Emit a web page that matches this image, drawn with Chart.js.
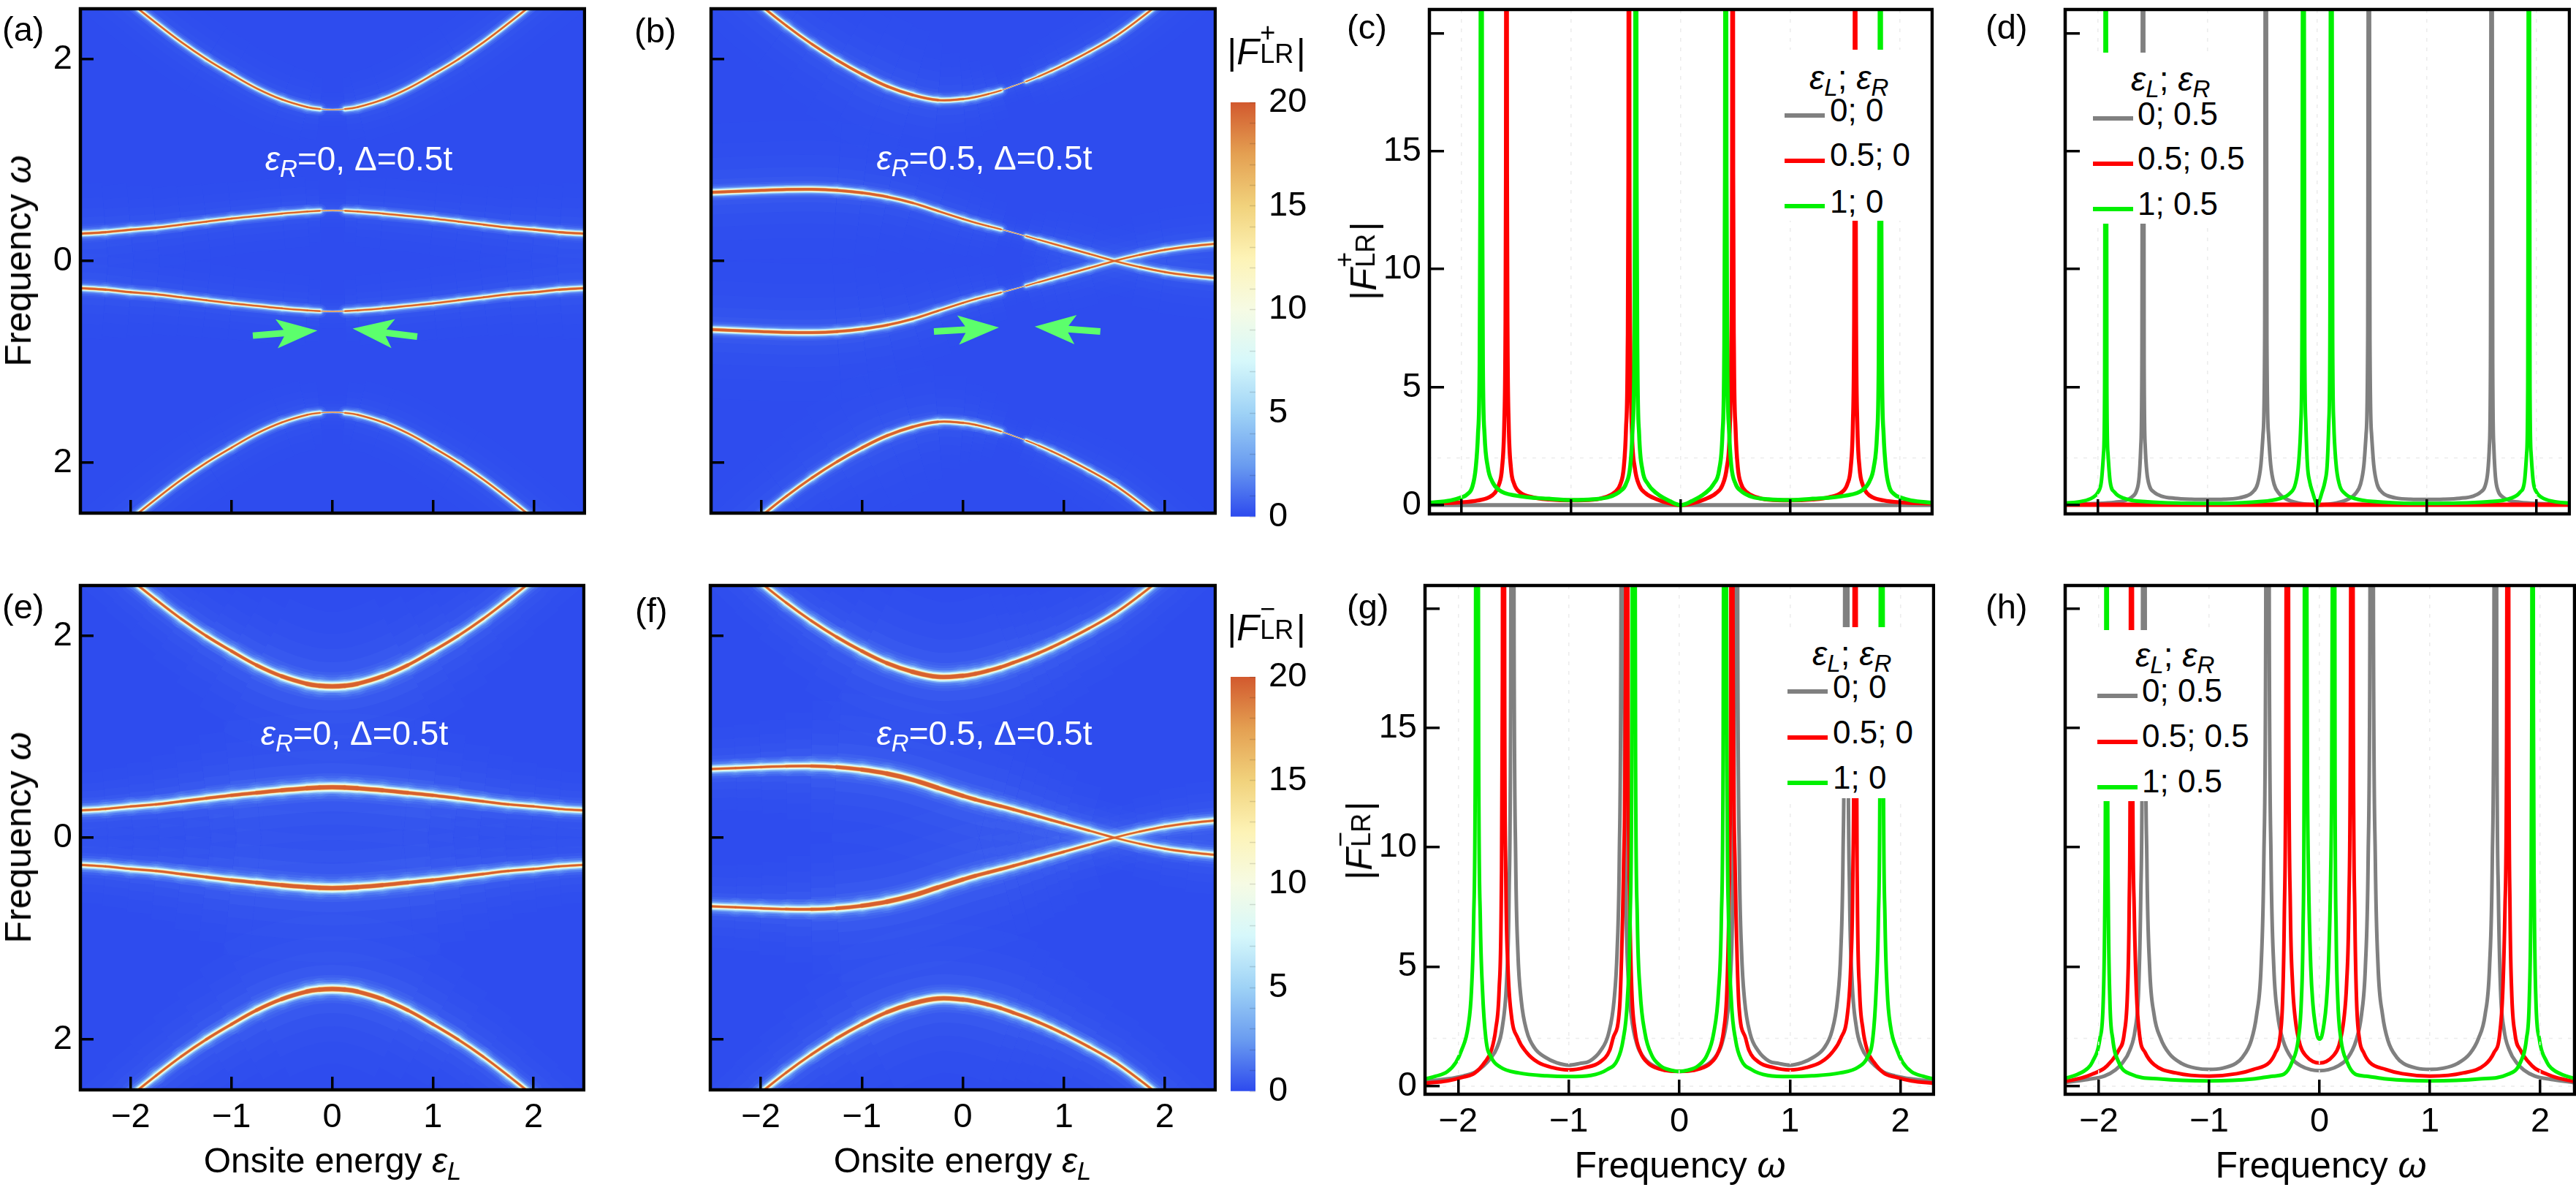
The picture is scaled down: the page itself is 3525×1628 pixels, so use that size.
<!DOCTYPE html>
<html><head><meta charset="utf-8">
<script src="https://cdn.jsdelivr.net/npm/chart.js@4"></script>
<style>
html,body{margin:0;padding:0;background:#fff;width:3525px;height:1628px;overflow:hidden}
canvas{position:absolute;display:block}
.t{position:absolute;white-space:nowrap;font-family:"Liberation Sans",sans-serif;color:#000;line-height:1;transform:translate(0,-50%);z-index:5}
.c{transform:translate(-50%,-50%)}
.r{transform:translate(-50%,-50%) rotate(-90deg)}
.t i{font-style:italic}
.t sub{font-size:72%;font-style:italic;vertical-align:-0.28em;line-height:0}
.st{display:inline-block;position:relative;width:1.02em;height:1em;vertical-align:baseline}
.st b,.st u{position:absolute;left:.04em;font-weight:normal;text-decoration:none;font-size:72%}
.st b{top:-.3em}.st u{top:.5em}
.box{position:absolute;background:#fff;z-index:3}
.sw{position:absolute;z-index:4;height:6px}
</style></head><body>
<script>
/* ---------- heat-map ridge values ---------- */
const epsR0=[-2.5,-2.25,-2,-1.75,-1.5,-1.25,-1,-0.75,-0.5,-0.25,-0.125,0,0.125,0.25,0.5,0.75,1,1.25,1.5,1.75,2,2.25,2.5];
const bandTopR0=[3.0,2.77,2.56,2.36,2.17,2.0,1.85,1.71,1.6,1.525,1.506,1.5,1.506,1.525,1.6,1.71,1.85,2.0,2.17,2.36,2.56,2.77,3.0];
const bandMidR0=[0.27,0.285,0.31,0.33,0.36,0.39,0.42,0.445,0.47,0.49,0.497,0.5,0.497,0.49,0.47,0.445,0.42,0.39,0.36,0.33,0.31,0.285,0.27];
const wTopA=[.45,.45,.45,.45,.45,.45,.42,.42,.42,.4,.3,0,.3,.4,.42,.42,.42,.45,.45,.45,.45,.45,.45];
const wMidA=[.65,.6,.55,.5,.45,.45,.42,.42,.42,.4,.3,0,.3,.4,.42,.42,.42,.45,.45,.5,.55,.6,.65];
const wTopE=[.42,.42,.45,.5,.55,.65,.75,.9,1.1,1.3,1.4,1.45,1.4,1.3,1.1,.9,.75,.65,.55,.5,.45,.42,.42];
const wMidE=[.45,.45,.5,.55,.65,.75,.9,1.05,1.2,1.35,1.38,1.4,1.38,1.35,1.2,1.05,.9,.75,.65,.55,.5,.45,.45];

const epsR5=[-2.5,-2.25,-2,-1.75,-1.5,-1.25,-1,-0.75,-0.5,-0.25,0,0.125,0.25,0.375,0.5,0.625,0.75,0.875,1,1.25,1.5,1.75,2,2.25,2.5];
const bandTopR5=[3.0,2.76,2.53,2.33,2.15,1.99,1.85,1.73,1.645,1.595,1.605,1.625,1.655,1.69,1.735,1.78,1.83,1.885,1.945,2.075,2.22,2.4,2.6,2.82,3.04];
const bandMidR5=[0.68,0.69,0.70,0.708,0.71,0.70,0.675,0.635,0.575,0.495,0.415,0.378,0.345,0.313,0.28,0.245,0.21,0.175,0.14,0.07,0,-0.06,-0.11,-0.145,-0.17];
const wTopB=[.6,.6,.6,.6,.65,.75,.85,.9,.8,.65,.5,.45,.38,.25,0,.22,.32,.38,.4,.42,.45,.45,.45,.45,.45];
const wMidB=[.9,.9,.9,.9,.9,.9,.85,.72,.6,.5,.42,.4,.36,.25,0,.22,.32,.38,.42,.45,.3,.45,.5,.5,.5];
const wTopF=[.45,.45,.45,.5,.6,.7,.9,1.1,1.3,1.4,1.3,1.2,1.1,1.02,.95,.87,.8,.75,.7,.6,.55,.5,.45,.45,.45];
const wMidF=[.5,.5,.55,.6,.75,.95,1.15,1.35,1.45,1.35,1.15,1.07,1,.92,.85,.8,.75,.7,.65,.45,.3,.35,.42,.45,.5];

const heatTicksX=[-2,-1,0,1,2];
const heatTicksY=[-2,0,2];
const lineTicksX=[-2,-1,0,1,2];
const lineTicksY=[0,5,10,15,20];
const cbarStops=[0,2.5,5,7.5,10,12.5,15,17.5,20];
const cbarColors=['#2d4aee','#6a9cf0','#9ed2f6','#d6f8fb','#f6fbe4','#fdf3b6','#f1d27c','#e4a052','#d2592e'];
const cbarTicks=[0,5,10,15,20];

/* ---------- line panel values ---------- */
const cGrayW=[-2.3,2.3], cGrayV=[0,0];
const cRedW=[-2.3,-2,-1.85,-1.75,-1.7,-1.66,-1.63,-1.61,-1.6,-1.595,-1.59,-1.585,-1.58,-1.57,-1.55,-1.52,-1.47,-1.35,-1.2,-1,-.8,-.68,-.6,-.55,-.52,-.5,-.485,-.478,-.473,-.468,-.46,-.445,-.42,-.38,-.32,-.22,-.1,0];
const cRedV=[.07,.12,.2,.33,.5,.85,1.6,3.5,7,14,40,14,7,3.5,1.6,.9,.55,.33,.24,.2,.23,.35,.55,.9,1.6,3.2,6.5,14,40,14,6.5,3,1.6,.85,.5,.25,.07,0];
const cGreenW=[-2.3,-2.1,-2,-1.95,-1.9,-1.87,-1.85,-1.835,-1.828,-1.82,-1.812,-1.805,-1.79,-1.76,-1.72,-1.66,-1.5,-1.2,-1,-.8,-.65,-.55,-.5,-.46,-.44,-.425,-.417,-.41,-.403,-.395,-.38,-.35,-.3,-.22,-.1,0];
const cGreenV=[.1,.2,.33,.45,.8,1.6,3,6,14,40,14,6,3,1.6,1,.65,.4,.27,.22,.25,.35,.6,.9,1.7,3.2,6,14,40,14,6,3,1.5,.9,.5,.17,0];

const dGrayW=[-2.3,-2,-1.85,-1.75,-1.69,-1.65,-1.625,-1.61,-1.6,-1.59,-1.58,-1.57,-1.555,-1.53,-1.49,-1.42,-1.3,-1.15,-1,-.85,-.72,-.64,-.59,-.545,-.515,-.495,-.48,-.47,-.46,-.445,-.425,-.395,-.35,-.28,-.18,-.08,0];
const dGrayV=[.04,.07,.12,.2,.35,.6,1.2,2.5,6,40,6,2.5,1.4,.8,.55,.38,.29,.25,.24,.25,.3,.4,.55,.9,1.7,3,7,40,7,3,1.7,.9,.5,.25,.1,.03,0];
const dRedW=[-2.3,2.3], dRedV=[.02,.02];
const dGreenW=[-2.3,-2.15,-2.05,-2,-1.97,-1.95,-1.94,-1.93,-1.92,-1.91,-1.89,-1.85,-1.75,-1.55,-1.2,-1,-.8,-.55,-.35,-.25,-.2,-.17,-.15,-.14,-.127,-.115,-.105,-.09,-.07,-.04,-.02,0];
const dGreenV=[.08,.16,.32,.55,1,2.2,5,40,5,2.2,1,.55,.27,.14,.08,.07,.08,.14,.27,.5,.9,1.8,3.5,7,40,7,3.5,1.7,1,.5,.2,0];

const gGrayW=[-2.3,-2.1,-1.95,-1.85,-1.77,-1.71,-1.65,-1.6,-1.56,-1.54,-1.525,-1.51,-1.495,-1.48,-1.46,-1.43,-1.38,-1.31,-1.21,-1.11,-1,-.9,-.81,-.71,-.64,-.59,-.563,-.543,-.528,-.513,-.498,-.483,-.463,-.433,-.383,-.313,-.213,-.11,0];
const gGrayV=[.2,.3,.43,.58,.85,1.15,1.6,2.5,4.6,8,17,60,19,9.5,5.6,3.6,2.3,1.6,1.2,.98,.88,.95,1.05,1.5,2.2,3.6,5.6,9.5,19,60,17,8,4.6,2.9,1.75,1.15,.8,.66,.62];
const gRedW=[-2.3,-2.1,-1.95,-1.85,-1.76,-1.7,-1.66,-1.63,-1.61,-1.6,-1.59,-1.58,-1.57,-1.55,-1.52,-1.46,-1.38,-1.28,-1.15,-1,-.85,-.72,-.63,-.6,-.54,-.525,-.505,-.485,-.475,-.465,-.45,-.43,-.4,-.35,-.28,-.18,-.08,0];
const gRedV=[.12,.22,.38,.55,1,1.5,2.4,4,8,17,55,17,9,5,3,2,1.4,1,.78,.68,.78,1,1.5,2,3.3,5,9,20,55,17,8,4,2.3,1.4,.95,.72,.63,.62];
const gGreenW=[-2.3,-2.2,-2.1,-2.02,-1.97,-1.91,-1.88,-1.86,-1.845,-1.83,-1.815,-1.8,-1.78,-1.75,-1.7,-1.62,-1.45,-1.2,-1,-.8,-.65,-.56,-.51,-.47,-.445,-.43,-.413,-.396,-.38,-.355,-.31,-.25,-.17,-.08,0];
const gGreenV=[.3,.42,.6,1,1.5,2.5,4,7,14,50,14,7,4,2,1.2,.8,.55,.43,.4,.45,.7,1.1,1.9,3.6,7,14,50,14,7,4,2.2,1.3,.85,.67,.62];

const hGrayW=[-2.3,-2.1,-1.95,-1.85,-1.79,-1.72,-1.67,-1.64,-1.62,-1.605,-1.593,-1.58,-1.565,-1.54,-1.5,-1.44,-1.36,-1.25,-1.12,-1,-.88,-.76,-.7,-.62,-.57,-.53,-.505,-.488,-.472,-.456,-.44,-.415,-.38,-.33,-.25,-.17,-.08,0];
const hGrayV=[.15,.28,.42,.68,.95,1.5,2.4,4,8,17,60,19,9.5,5,3,2,1.35,.95,.75,.7,.75,.95,1.2,1.9,3,5,9.5,19,60,19,9.5,5,3,1.9,1.15,.85,.69,.65];
const hRedW=[-2.3,-2.15,-2.06,-1.95,-1.895,-1.82,-1.77,-1.74,-1.725,-1.715,-1.705,-1.695,-1.68,-1.66,-1.63,-1.58,-1.5,-1.3,-1,-.75,-.6,-.453,-.4,-.36,-.335,-.32,-.305,-.293,-.28,-.265,-.245,-.22,-.175,-.12,-.06,0];
const hRedV=[.2,.35,.5,.75,1,1.5,2.2,4,7.5,15,50,15,7.5,4,2.1,1.4,.9,.55,.42,.52,.7,1,1.4,2,3.6,7,16,50,16,7.5,4.3,2.8,1.7,1.25,1.03,.97];
const hGreenW=[-2.3,-2.2,-2.1,-2.06,-1.99,-1.96,-1.945,-1.937,-1.93,-1.923,-1.915,-1.9,-1.875,-1.82,-1.71,-1.45,-1,-.6,-.42,-.323,-.25,-.192,-.165,-.15,-.14,-.128,-.118,-.11,-.1,-.08,-.06,-.04,-.02,0];
const hGreenV=[.33,.48,.75,1,2,3.6,8,16,50,16,8,3.6,2,1,.5,.3,.22,.3,.42,.5,1,2,3.6,6.5,13,50,24,13,8.7,5,3.4,2.6,2.1,1.97];

/* guide lines (faint dashed) */
const guideY=[2];
const guideYLower=[0,2];

/* text */
const legendHead='<i>ε<sub>L</sub></i>; <i>ε<sub>R</sub></i>';
const legendC=['0; 0','0.5; 0','1; 0'];
const legendD=['0; 0.5','0.5; 0.5','1; 0.5'];
const seriesColors=['#808080','#ff0000','#00f000'];

/* ---------- helpers ---------- */
const FONT='"Liberation Sans"';
const mirW=h=>[...h,...h.slice(0,-1).reverse().map(v=>-v)];
const mirV=h=>[...h,...h.slice(0,-1).reverse()];
const pts=(xs,ys)=>xs.map((x,i)=>({x,y:ys[i]}));
Chart.defaults.font.family=FONT;

function addCanvas(l,t,w,h){const c=document.createElement('canvas');c.width=w;c.height=h;c.style.left=l+'px';c.style.top=t+'px';c.style.width=w+'px';c.style.height=h+'px';document.body.appendChild(c);return c;}
function text(html,x,y,size,cls,color){const d=document.createElement('div');d.className='t '+(cls||'');d.innerHTML=html;d.style.left=x+'px';d.style.top=y+'px';d.style.fontSize=size+'px';if(color)d.style.color=color;document.body.appendChild(d);return d;}

const framePlugin={id:'frame',afterDraw(ch){const a=ch.chartArea,g=ch.ctx;g.save();g.strokeStyle='#000';g.lineWidth=4.5;g.strokeRect(a.left,a.top,a.right-a.left,a.bottom-a.top);
 const arrows=ch.config.options.arrowList||[];
 arrows.forEach(ar=>{const X=ch.scales.x,Y=ch.scales.y;const sx=X.getPixelForValue(ar[0]),sy=Y.getPixelForValue(ar[1]),tx=X.getPixelForValue(ar[2]),ty=Y.getPixelForValue(ar[3]);
  const L=Math.hypot(tx-sx,ty-sy),ux=(tx-sx)/L,uy=(ty-sy)/L,nx=-uy,ny=ux;const P=(b,s)=>[tx-ux*b+nx*s,ty-uy*b+ny*s];
  const poly=[P(0,0),P(56,20),P(46,4.5),P(L,4.5),P(L,-4.5),P(46,-4.5),P(56,-20)];
  g.fillStyle='#5cff6c';g.beginPath();poly.forEach((p,i)=>i?g.lineTo(p[0],p[1]):g.moveTo(p[0],p[1]));g.closePath();g.fill();});
 g.restore();},
 beforeDatasetsDraw(ch){const bg=ch.config.options.plotBg;if(!bg)return;const a=ch.chartArea,g=ch.ctx;g.save();g.fillStyle=bg;g.fillRect(a.left,a.top,a.right-a.left,a.bottom-a.top);g.restore();}};

function noPad(s){s.paddingTop=0;s.paddingBottom=0;s.paddingLeft=0;s.paddingRight=0;}
function axisBase(pos,ticks,range,fit,labelFn,tl,pad,gridLine,size){return {type:'linear',position:pos,min:range[0],max:range[1],
  afterBuildTicks:s=>{s.ticks=ticks.map(v=>({value:v}));},afterFit:s=>{fit(s);noPad(s);},
  border:{display:false,dash:[5,8]},
  grid:{z:1,drawOnChartArea:!!gridLine,color:gridLine||'transparent',lineWidth:1.5,drawTicks:true,tickLength:-tl,tickColor:'#000',tickWidth:3.5,tickBorderDash:[]},
  ticks:{z:2,autoSkip:false,maxRotation:0,minRotation:0,padding:tl+pad,color:'#000',font:{size:size||47,family:FONT},callback:labelFn}};}

function buildPanel(plot,xr,yr,xT,yT,xLab,yLab,datasets,opt){
 const mL=115,mT=8,mR=Math.min(2,3525-plot[2]),mB=80;
 const c=addCanvas(plot[0]-mL,plot[1]-mT,plot[2]-plot[0]+mL+mR,plot[3]-plot[1]+mT+mB);
 /* Chart.js paints dataset 0 last, so the list is reversed to paint in the listed order */
 return new Chart(c,{type:'scatter',data:{datasets:datasets.slice().reverse()},plugins:[framePlugin],options:Object.assign({responsive:false,animation:false,devicePixelRatio:1,
   layout:{padding:{top:mT,right:mR,left:0,bottom:0}},plugins:{legend:{display:false},tooltip:{enabled:false}},
   scales:{
    x:axisBase('bottom',xT,xr,s=>{s.height=mB;},xLab,opt.tl,opt.padX,opt.gridX),
    y:axisBase('left',yT,yr,s=>{s.width=mL;},yLab,opt.tl,opt.padY)
   }},opt.extra||{})});
}

/* ---------- heat-map ridge layers ---------- */
const layers=[
 {c:'rgba(90,135,245,0.22)',b:23,k:6},
 {c:'rgba(100,150,245,0.38)',b:16,k:6},
 {c:'rgba(125,175,245,0.7)',b:11,k:5},
 {c:'#a8dcf8',b:7.5,k:4.5},
 {c:'#dcf8fb',b:4.8,k:4.3},
 {c:'#f8fbe0',b:3.2,k:4},
 {c:'#f5dc90',b:2.3,k:3.7},
 {c:'#e08a48',b:1.5,k:3.4},
 {c:'#d8602f',b:.8,k:3.1}];
const hazeLayers=[[170,.018],[120,.025],[85,.035],[55,.05],[32,.08]];
function ridgeSets(grid,curves,hazeA,scale){
 const out=[];
 hazeLayers.forEach(h=>curves.forEach(cv=>out.push({data:pts(grid,cv.y),showLine:true,pointRadius:0,borderColor:`rgba(120,170,250,${h[1]*hazeA})`,borderWidth:h[0],tension:.4,clip:0,borderCapStyle:'butt',
   segment:{borderWidth:s=>{const w=(cv.w[s.p0DataIndex]+cv.w[s.p1DataIndex])/2;return h[0]*Math.min(1.2,(w+.1)/.9);}}})));
 layers.forEach(l=>curves.forEach(cv=>out.push({data:pts(grid,cv.y),showLine:true,pointRadius:0,borderColor:l.c,borderWidth:2,tension:.4,clip:0,borderCapStyle:'round',
   segment:{borderWidth:s=>{const w=(cv.w[s.p0DataIndex]+cv.w[s.p1DataIndex])/2;const f=Math.min(1,w/.3);return Math.max(.2,l.k*w+scale*l.b*f*f);}}})));
 return out;
}
const neg=a=>a.map(v=>-v);
const curvesOf=(top,mid,wt,wm)=>[{y:top,w:wt},{y:mid,w:wm},{y:neg(mid),w:wm},{y:neg(top),w:wt}];
const absLab=v=>String(Math.abs(v));
const minusLab=v=>String(v).replace('-','\u2212');
const noLab=()=>'';

const heatOpt=(extra)=>({tl:18,padX:10,padY:11,extra});
buildPanel([110,12,800,702],[-2.5,2.5],[-2.5,2.5],heatTicksX,heatTicksY,noLab,absLab,
 ridgeSets(epsR0,curvesOf(bandTopR0,bandMidR0,wTopA,wMidA),.7,.72),heatOpt({plotBg:'#2e4cee',arrowList:[[-.79,-.74,-.15,-.69],[.84,-.75,.2,-.67]]}));
buildPanel([973,12,1663,702],[-2.5,2.5],[-2.5,2.5],heatTicksX,heatTicksY,noLab,noLab,
 ridgeSets(epsR5,curvesOf(bandTopR5,bandMidR5,wTopB,wMidB),.7,.72),heatOpt({plotBg:'#2e4cee',arrowList:[[-.29,-.70,.355,-.66],[1.36,-.70,.71,-.65]]}));
buildPanel([110,801,799,1491],[-2.5,2.5],[-2.5,2.5],heatTicksX,heatTicksY,minusLab,absLab,
 ridgeSets(epsR0,curvesOf(bandTopR0,bandMidR0,wTopE,wMidE),1.25,1),heatOpt({plotBg:'#2e4cee'}));
buildPanel([972,801,1663,1491],[-2.5,2.5],[-2.5,2.5],heatTicksX,heatTicksY,minusLab,noLab,
 ridgeSets(epsR5,curvesOf(bandTopR5,bandMidR5,wTopF,wMidF),1.25,1),heatOpt({plotBg:'#2e4cee'}));

/* ---------- line panels ---------- */
function lineSet(xs,ys,color,w){return {data:pts(xs,ys),showLine:true,pointRadius:0,borderColor:color,borderWidth:w,cubicInterpolationMode:'monotone',clip:0,borderCapStyle:'butt'};}
function guide(v){return {data:[{x:-3,y:v},{x:3,y:v}],showLine:true,pointRadius:0,borderColor:'#ececec',borderWidth:1.5,borderDash:[5,8],clip:0};}
const yLabLine=v=>v===20?'':String(v);
const lineOpt={tl:20,padX:10,padY:11,gridX:'#ececec'};

buildPanel([1956,13,2644,703],[-2.293,2.293],[-.37,21],lineTicksX,lineTicksY,noLab,yLabLine,
 [...guideY.map(guide),lineSet(cGrayW,cGrayV,seriesColors[0],5.5),lineSet(mirW(cRedW),mirV(cRedV),seriesColors[1],5.5),lineSet(mirW(cGreenW),mirV(cGreenV),seriesColors[2],5.5)],lineOpt);
buildPanel([2826,13,3516,703],[-2.3,2.3],[-.37,21],lineTicksX,lineTicksY,noLab,noLab,
 [...guideY.map(guide),lineSet(mirW(dGrayW),mirV(dGrayV),seriesColors[0],5),lineSet(dRedW,dRedV,seriesColors[1],6),lineSet(mirW(dGreenW),mirV(dGreenV),seriesColors[2],5)],lineOpt);
buildPanel([1950,801,2646,1497],[-2.3,2.3],[-.34,20.96],lineTicksX,lineTicksY,minusLab,yLabLine,
 [...guideYLower.map(guide),lineSet(mirW(gGrayW),mirV(gGrayV),seriesColors[0],5),lineSet(mirW(gRedW),mirV(gRedV),seriesColors[1],5),lineSet(mirW(gGreenW),mirV(gGreenV),seriesColors[2],5)],lineOpt);
buildPanel([2826,801,3523,1497],[-2.305,2.31],[-.34,20.96],lineTicksX,lineTicksY,minusLab,noLab,
 [...guideYLower.map(guide),lineSet(mirW(hGrayW),mirV(hGrayV),seriesColors[0],5),lineSet(mirW(hRedW),mirV(hRedV),seriesColors[1],5),lineSet(mirW(hGreenW),mirV(hGreenV),seriesColors[2],5)],lineOpt);

/* ---------- colour bars ---------- */
function colorbar(l,t,r,b){
 const mT=30,mB=30,aw=90;
 const c=addCanvas(l,t-mT,r-l+aw,b-t+mT+mB);
 new Chart(c,{type:'bar',data:{labels:['F'],datasets:[{data:[[0,20]],barPercentage:1,categoryPercentage:1,borderWidth:0,
   backgroundColor:ctx=>{const ch=ctx.chart;if(!ch.chartArea)return cbarColors[0];const Y=ch.scales.y;const g=ch.ctx.createLinearGradient(0,Y.getPixelForValue(0),0,Y.getPixelForValue(20));cbarStops.forEach((s,i)=>g.addColorStop(s/20,cbarColors[i]));return g;}}]},
  options:{responsive:false,animation:false,devicePixelRatio:1,layout:{padding:{top:mT,bottom:mB}},plugins:{legend:{display:false},tooltip:{enabled:false}},
   scales:{x:{display:false},y:{position:'right',min:0,max:20,afterFit:s=>{s.width=aw;noPad(s);},
     afterBuildTicks:s=>{const a=[];for(let v=0;v<=20;v++)a.push({value:v});s.ticks=a;},
     border:{display:false},grid:{z:1,drawOnChartArea:false,tickLength:-8,tickColor:'rgba(0,0,0,.13)',tickWidth:1.5},
     ticks:{z:2,autoSkip:false,padding:26,color:'#000',font:{size:47,family:FONT},callback:v=>cbarTicks.includes(v)?String(v):''}}}}});
}
colorbar(1684,140,1718,707);
colorbar(1684,926,1718,1493);

/* ---------- text overlays ---------- */
[['(a)',3,39],['(b)',868,41],['(c)',1843,36],['(d)',2717,36],['(e)',3,829],['(f)',869,834],['(g)',1843,829],['(h)',2717,829]].forEach(a=>text(a[0],a[1],a[2],47));
const freq='Frequency <i>ω</i>', onsite='Onsite energy <i>ε<sub>L</sub></i>';
text(freq,25,357,50,'r');text(freq,25,1146,50,'r');
text(onsite,455,1588,48,'c');text(onsite,1317,1588,48,'c');
text(freq,2299,1594,50,'c');text(freq,3176,1594,50,'c');
const fLab=s=>`|<i>F</i><span class="st"><b>${s}</b><u>LR</u></span>|`;
text(fLab('+'),1862,357,50,'r');text(fLab('\u2212'),1856,1150,50,'r');
text(fLab('+'),1733,67,50,'c');text(fLab('\u2212'),1733,855,50,'c');
const ann0='<i>ε<sub>R</sub></i>=0, Δ=0.5t', ann5='<i>ε<sub>R</sub></i>=0.5, Δ=0.5t';
text(ann0,491,217,46,'c','#fff');text(ann5,1347,216,46,'c','#fff');
text(ann0,485,1003,46,'c','#fff');text(ann5,1347,1003,46,'c','#fff');

function legend(box,headX,headY,txtX,swX,rows,labels){
 const b=document.createElement('div');b.className='box';b.style.cssText+=`left:${box[0]}px;top:${box[1]}px;width:${box[2]-box[0]}px;height:${box[3]-box[1]}px`;document.body.appendChild(b);
 text(legendHead,headX,headY,46);
 labels.forEach((s,i)=>{text(s,txtX,rows[i][0],44);const w=document.createElement('div');w.className='sw';w.style.cssText+=`left:${swX}px;top:${rows[i][1]-3}px;width:55px;background:${seriesColors[i]}`;document.body.appendChild(w);});
}
legend([2435,68,2625,302],2476,106,2504,2442,[[151,158],[212,220],[276,282]],legendC);
legend([2860,72,3080,306],2916,108,2925,2864,[[156,162],[217,224],[279,286]],legendD);
legend([2440,858,2630,1092],2480,894,2508,2446,[[940,946],[1002,1009],[1064,1071]],legendC);
legend([2862,862,3085,1096],2922,896,2931,2870,[[945,952],[1007,1015],[1069,1077]],legendD);
</script>
</body></html>
